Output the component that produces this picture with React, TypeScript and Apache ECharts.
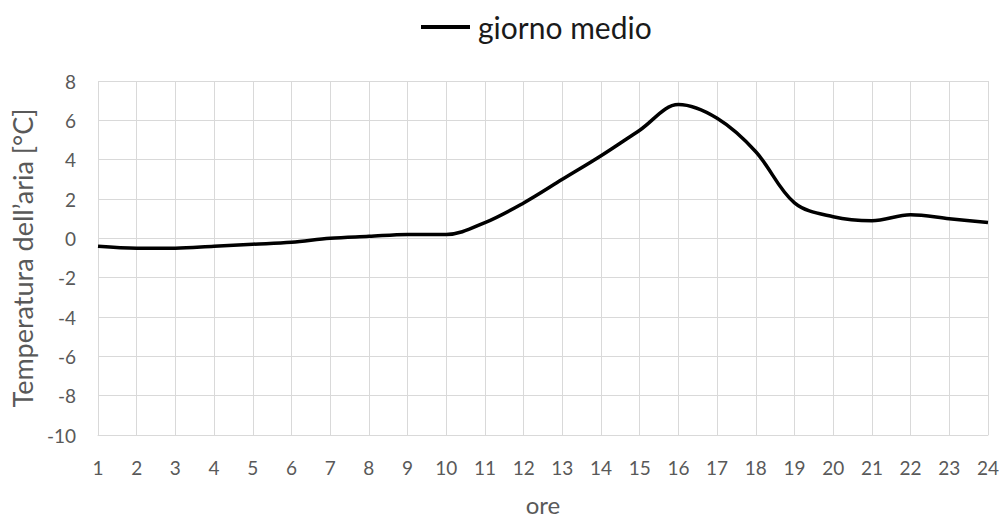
import React, { useEffect, useRef } from "react";
import * as echarts from "echarts";

const hours = ["1","2","3","4","5","6","7","8","9","10","11","12","13","14","15","16","17","18","19","20","21","22","23","24"];
const temperature = [-0.4,-0.5,-0.5,-0.4,-0.3,-0.2,0.0,0.1,0.2,0.2,0.8,1.8,3.0,4.2,5.5,6.8,6.1,4.4,1.8,1.1,0.9,1.2,1.0,0.8];
const seriesName = "giorno medio";

const FONT = "Lato, 'Open Sans', sans-serif";

export default function App() {
  const ref = useRef<HTMLDivElement>(null);
  useEffect(() => {
    if (!ref.current) return;
    const chart = echarts.init(ref.current, undefined, { renderer: "svg" });
    chart.setOption({
      animation: false,
      backgroundColor: "#ffffff",
      legend: {
        data: [seriesName],
        top: 7,
        left: 416,
        icon: "rect",
        itemWidth: 49,
        itemHeight: 4,
        textStyle: { fontFamily: FONT, fontSize: 30, color: "#1a1a1a", padding: [0, 0, 0, 3] },
      },
      grid: { left: 98, right: 14, top: 81, bottom: 81, containLabel: false },
      xAxis: {
        type: "category",
        data: hours,
        boundaryGap: false,
        name: "ore",
        nameLocation: "middle",
        nameGap: 57,
        nameTextStyle: { fontFamily: FONT, fontSize: 24, color: "#595959" },
        axisLine: { show: true, onZero: false, lineStyle: { color: "#d9d9d9" } },
        axisTick: { show: false },
        axisLabel: { fontFamily: FONT, fontSize: 19, color: "#595959", margin: 23, interval: 0 },
        splitLine: { show: true, interval: 0, lineStyle: { color: "#d9d9d9", width: 1 } },
      },
      yAxis: {
        type: "value",
        min: -10,
        max: 8,
        interval: 2,
        name: "Temperatura dell\u2019aria [°C]",
        nameLocation: "middle",
        nameGap: 62,
        nameTextStyle: { fontFamily: FONT, fontSize: 27, color: "#595959" },
        axisLine: { show: false },
        axisTick: { show: false },
        axisLabel: { fontFamily: FONT, fontSize: 19, color: "#595959", margin: 22 },
        splitLine: { show: true, lineStyle: { color: "#d9d9d9", width: 1 } },
      },
      series: [
        {
          name: seriesName,
          type: "line",
          data: temperature,
          smooth: 0.35,
          symbol: "none",
          lineStyle: { color: "#000000", width: 3.5 },
          itemStyle: { color: "#000000" },
        },
      ],
    });
    return () => chart.dispose();
  }, []);
  return <div ref={ref} style={{ width: 1002, height: 521, position: "absolute", left: 0, top: 0 }} />;
}
